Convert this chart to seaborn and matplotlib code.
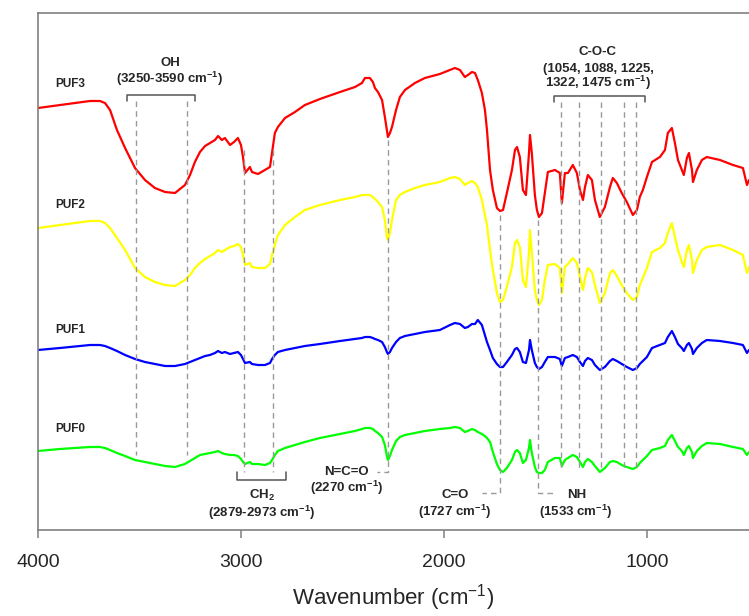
import numpy as np
import pandas as pd
import matplotlib
matplotlib.use('Agg')
import matplotlib.pyplot as plt
import seaborn as sns

# FTIR spectra of the PUF samples (a.u., offset stacked)
wavenumber = [4000, 3892, 3744, 3695, 3670, 3645, 3611, 3571, 3522, 3473,
              3424, 3374, 3325, 3276, 3251, 3227, 3202, 3177, 3153, 3128,
              3113, 3094, 3079, 3054, 3034, 3015, 3000, 2990, 2980, 2956,
              2946, 2916, 2882, 2857, 2847, 2833, 2818, 2783, 2734, 2685,
              2611, 2512, 2438, 2404, 2389, 2365, 2350, 2340, 2325, 2305,
              2291, 2281, 2276, 2266, 2256, 2236, 2217, 2192, 2143, 2094,
              2020, 1970, 1946, 1921, 1897, 1882, 1862, 1847, 1833, 1813,
              1798, 1788, 1773, 1759, 1739, 1724, 1709, 1690, 1665, 1650,
              1640, 1626, 1611, 1596, 1581, 1576, 1567, 1552, 1542, 1532,
              1517, 1503, 1488, 1453, 1429, 1419, 1404, 1389, 1365, 1345,
              1330, 1315, 1305, 1291, 1271, 1256, 1232, 1207, 1182, 1168,
              1148, 1124, 1099, 1069, 1049, 1035, 1020, 1000, 975, 936,
              911, 897, 877, 862, 847, 828, 818, 803, 793, 778,
              773, 754, 729, 705, 640, 576, 527, 507, 497]

puf3 = [422, 425, 429, 429, 427, 420, 400, 382, 362, 350,
        342, 338, 337, 345, 355, 368, 378, 384, 387, 390,
        394, 390, 392, 385, 388, 392, 385, 373, 357, 363,
        358, 356, 360, 363, 377, 397, 403, 412, 418, 425,
        431, 438, 443, 447, 452, 452, 448, 442, 438, 430,
        413, 400, 393, 397, 403, 420, 433, 440, 447, 452,
        456, 460, 462, 460, 453, 455, 458, 457, 450, 437,
        420, 400, 360, 340, 322, 319, 320, 337, 360, 380,
        383, 373, 340, 335, 377, 395, 377, 335, 320, 313,
        317, 337, 358, 360, 357, 327, 357, 357, 365, 357,
        340, 330, 343, 355, 350, 330, 313, 323, 343, 352,
        347, 337, 328, 315, 320, 333, 340, 353, 368, 373,
        380, 397, 402, 387, 370, 360, 355, 372, 377, 360,
        348, 360, 370, 373, 370, 365, 362, 345, 350]

puf2 = [302, 305, 309, 309, 307, 302, 292, 280, 262, 253,
        248, 245, 244, 250, 255, 262, 267, 271, 274, 277,
        280, 278, 280, 283, 284, 286, 283, 275, 265, 267,
        263, 262, 262, 266, 275, 285, 295, 305, 313, 320,
        325, 330, 333, 335, 335, 335, 333, 331, 328, 323,
        310, 293, 290, 297, 310, 330, 335, 338, 342, 345,
        348, 352, 353, 351, 345, 347, 349, 347, 343, 330,
        315, 305, 280, 260, 237, 228, 230, 243, 263, 287,
        290, 283, 250, 243, 277, 300, 277, 240, 230, 225,
        230, 250, 265, 266, 262, 237, 263, 266, 272, 267,
        253, 240, 252, 262, 258, 245, 227, 237, 257, 260,
        254, 245, 237, 230, 233, 245, 252, 262, 278, 282,
        287, 297, 307, 293, 280, 268, 263, 280, 285, 270,
        257, 270, 280, 283, 285, 280, 275, 257, 263]

puf1 = [180, 182, 185, 185, 184, 182, 179, 175, 171, 168,
        166, 164, 164, 166, 168, 170, 172, 174, 175, 177,
        179, 177, 178, 176, 177, 178, 175, 171, 167, 168,
        166, 165, 165, 167, 171, 175, 178, 180, 182, 184,
        186, 189, 191, 192, 193, 193, 192, 191, 190, 188,
        183, 178, 176, 178, 182, 188, 192, 194, 196, 198,
        200, 205, 207, 206, 202, 203, 206, 206, 210, 205,
        195, 188, 180, 172, 166, 163, 163, 168, 175, 181,
        182, 178, 168, 167, 180, 190, 180, 167, 163, 161,
        163, 168, 173, 173, 171, 164, 172, 173, 175, 173,
        168, 164, 169, 172, 170, 165, 160, 163, 169, 171,
        169, 166, 163, 160, 162, 166, 169, 173, 182, 185,
        187, 193, 199, 193, 186, 182, 179, 185, 187, 181,
        176, 182, 187, 190, 189, 187, 185, 177, 180]

puf0 = [79, 81, 83, 83, 82, 80, 77, 74, 70, 68,
        66, 64, 63, 66, 69, 72, 75, 76, 77, 78,
        79, 77, 76, 75, 75, 74, 71, 68, 66, 68,
        66, 66, 65, 67, 70, 75, 79, 82, 85, 88,
        92, 96, 99, 101, 102, 102, 101, 99, 97, 93,
        85, 74, 70, 74, 80, 89, 93, 95, 97, 99,
        101, 102, 103, 102, 98, 99, 101, 100, 98, 96,
        94, 92, 88, 78, 66, 60, 58, 62, 70, 78,
        80, 77, 67, 70, 82, 90, 77, 63, 58, 57,
        57, 60, 68, 72, 72, 64, 70, 72, 75, 73,
        68, 63, 68, 71, 68, 64, 58, 62, 68, 69,
        68, 65, 63, 61, 63, 67, 70, 74, 80, 82,
        84, 90, 95, 89, 83, 79, 75, 82, 84, 78,
        72, 79, 84, 87, 86, 83, 81, 75, 78]

samples = ['PUF3', 'PUF2', 'PUF1', 'PUF0']
colors = ['#FF0000', '#FFFF00', '#0000FF', '#00FF00']
label_y = [446, 325, 200, 101]

# band markers
oh_lines = [3517, 3266]
ch2_lines = [2985, 2840]
nco_line = 2277
co_line = 1724
nh_line = 1535
coc_lines = [1425, 1333, 1228, 1113, 1054]

sns.set_style('white')
plt.rcParams['font.family'] = ['Liberation Sans', 'DejaVu Sans']
plt.rcParams['mathtext.default'] = 'regular'

df = pd.DataFrame({
    'wavenumber': wavenumber * 4,
    'intensity': puf3 + puf2 + puf1 + puf0,
    'sample': [s for s in samples for _ in wavenumber],
})

fig = plt.figure(figsize=(7.49, 6.16), dpi=100)
ax = fig.add_axes([38/749, 86/616, 711/749, 517/616])

sns.lineplot(data=df, x='wavenumber', y='intensity', hue='sample',
             palette=dict(zip(samples, colors)), estimator=None, sort=False,
             linewidth=1.6, legend=False, ax=ax)

ax.set_xlim(4000, 497)
ax.set_ylim(0, 517)
ax.set_xticks([4000, 3000, 2000, 1000])
ax.set_yticks([])
ax.set_ylabel('')
ax.set_xlabel('Wavenumber (cm$^{-1}$)', fontsize=16, labelpad=8)
ax.tick_params(axis='x', direction='out', length=6, width=1.1, color='#808080',
               labelsize=14, pad=11, bottom=True)
for side in ['left', 'top', 'bottom']:
    ax.spines[side].set_color('#808080')
    ax.spines[side].set_linewidth(1.2)
ax.spines['right'].set_visible(False)

for s, y in zip(samples, label_y):
    ax.text(3916, y, s, fontsize=8.5, fontweight='bold', va='center', ha='left')

dash = dict(color='#999999', lw=1, ls=(0, (4, 3)))
brk = dict(color='#555555', lw=1.1)
txt = dict(fontsize=9.5, fontweight='bold', ha='center', va='center')

# OH
for w in oh_lines:
    ax.plot([w, w], [429, 75], **dash)
ax.plot([3562, 3562, 3227, 3227], [429, 435, 435, 429], **brk)
ax.text(3350, 467, 'OH', **txt)
ax.text(3350, 451, '(3250-3590 cm$^{-1}$)', **txt)

# CH2
for w in ch2_lines:
    ax.plot([w, w], [380, 58], **dash)
ax.plot([3020, 3020, 2778, 2778], [58, 50, 50, 58], **brk)
ax.text(2897, 35, 'CH$_{2}$', **txt)
ax.text(2897, 17, '(2879-2973 cm$^{-1}$)', **txt)

# N=C=O
ax.plot([nco_line, nco_line, 2330], [390, 58, 58], **dash)
ax.text(2478, 58, 'N=C=O', **txt)
ax.text(2478, 42, '(2270 cm$^{-1}$)', **txt)

# C=O
ax.plot([co_line, co_line, 1813], [315, 37, 37], **dash)
ax.text(1946, 35, 'C=O', **txt)
ax.text(1946, 18, '(1727 cm$^{-1}$)', **txt)

# NH
ax.plot([nh_line, nh_line, 1453], [310, 37, 37], **dash)
ax.text(1345, 35, 'NH', **txt)
ax.text(1350, 18, '(1533 cm$^{-1}$)', **txt)

# C-O-C
for w in coc_lines:
    ax.plot([w, w], [428, 62], **dash)
ax.plot([1458, 1458, 1010, 1010], [428, 434, 434, 428], **brk)
ax.text(1241, 478, 'C-O-C', **txt)
ax.text(1241, 461, '(1054, 1088, 1225,', **txt)
ax.text(1241, 447, '1322, 1475 cm$^{-1}$)', **txt)

fig.savefig('out.png', dpi=100)
